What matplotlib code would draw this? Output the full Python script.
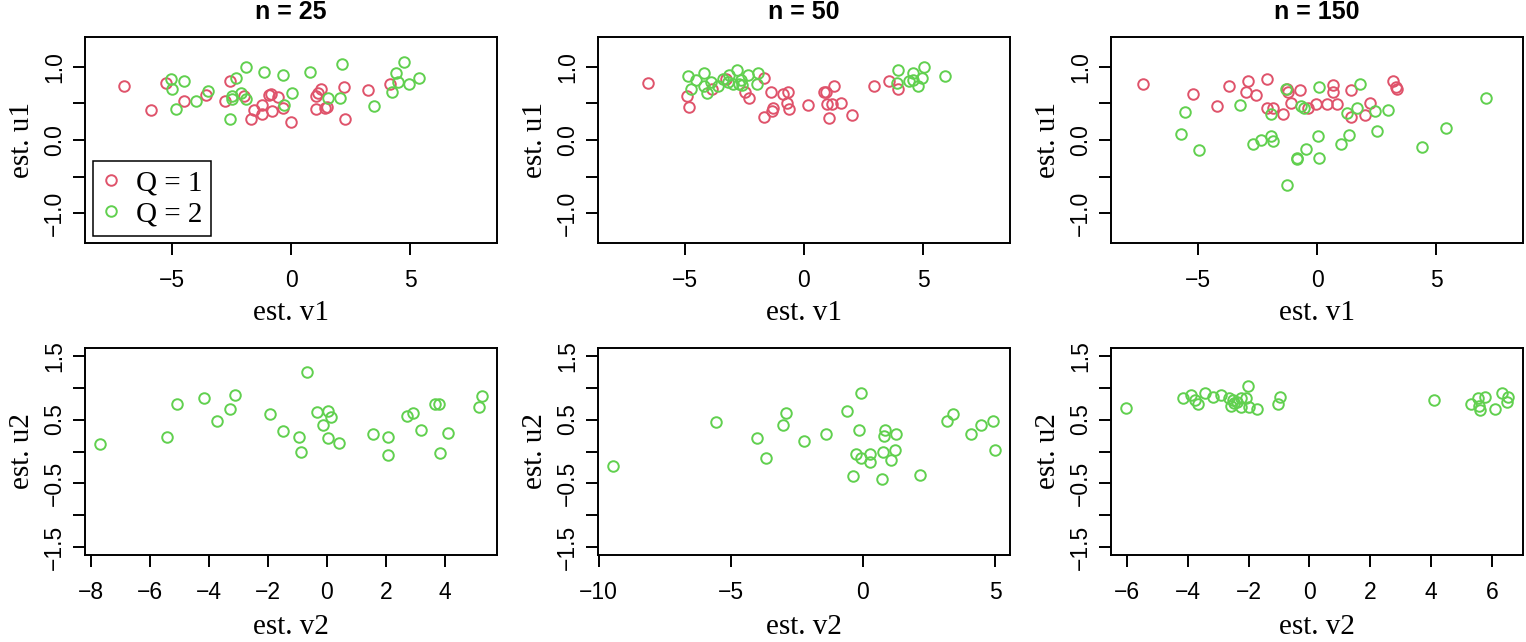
import numpy as np
import matplotlib
matplotlib.use("Agg")
import matplotlib.pyplot as plt
from matplotlib.lines import Line2D

# ---------- colours (R palette 2 / 3) ----------
RED = "#DF536B"
GREEN = "#61D04F"

# ---------- data: top row (est. v1 vs est. u1) ----------
n25_q1_v = [-7.02, -5.86, -5.24, -4.48, -3.56, -2.77, -2.58, -1.96, -1.68, -1.54, -1.22, -1.22, -0.92, -0.86,
            -0.80, -0.55, -0.34, -0.02, 1.03, 1.03, 1.15, 1.26, 1.43, 1.51, 2.24, 2.27, 3.24, 4.17]
n25_q1_u = [0.74, 0.41, 0.78, 0.53, 0.62, 0.53, 0.80, 0.60, 0.28, 0.41, 0.48, 0.35, 0.62, 0.63,
            0.39, 0.59, 0.44, 0.25, 0.42, 0.60, 0.64, 0.69, 0.43, 0.45, 0.72, 0.28, 0.68, 0.77]
n25_q2_v = [-5.03, -4.99, -4.50, -4.82, -4.01, -3.49, -2.55, -2.48, -2.46, -2.31, -2.09, -1.91, -1.88, -1.12,
            -0.35, -0.31, 0.03, 0.81, 1.54, 2.04, 2.13, 3.49, 4.26, 4.41, 4.48, 4.76, 4.97, 5.38]
n25_q2_u = [0.83, 0.70, 0.80, 0.42, 0.53, 0.67, 0.29, 0.60, 0.56, 0.85, 0.64, 0.99, 0.56, 0.93,
            0.88, 0.48, 0.64, 0.93, 0.57, 0.57, 1.04, 0.46, 0.66, 0.92, 0.79, 1.06, 0.76, 0.85]

n50_q1_v = [-6.57, -4.91, -4.84, -3.87, -3.27, -2.46, -2.32, -1.67, -1.66, -1.38, -1.34, -1.29, -0.87, -0.66,
            -0.70, -0.62, 0.17, 0.84, 0.94, 1.27, 0.96, 1.19, 1.55, 1.04, 2.03, 2.93, 3.56, 3.94]
n50_q1_u = [0.78, 0.60, 0.45, 0.70, 0.83, 0.65, 0.57, 0.84, 0.32, 0.65, 0.40, 0.44, 0.63, 0.65,
            0.51, 0.42, 0.48, 0.65, 0.65, 0.74, 0.49, 0.49, 0.50, 0.30, 0.34, 0.73, 0.80, 0.70]
n50_q2_v = [-4.85, -4.74, -4.53, -4.22, -4.19, -4.06, -3.91, -3.63, -3.40, -3.16, -3.19, -3.00, -2.80, -2.74,
            -2.63, -2.60, -2.36, -1.95, -1.97, 3.95, 3.92, 4.40, 4.57, 4.57, 4.78, 4.95, 5.05, 5.91]
n50_q2_u = [0.87, 0.70, 0.82, 0.91, 0.73, 0.64, 0.79, 0.73, 0.83, 0.89, 0.79, 0.77, 0.96, 0.77,
            0.82, 0.75, 0.89, 0.92, 0.77, 0.96, 0.78, 0.81, 0.92, 0.82, 0.73, 0.85, 0.99, 0.87]

n150_q1_v = [-7.32, -5.19, -4.18, -3.71, -2.98, -2.90, -2.57, -2.08, -2.08, -1.84, -1.42, -1.27, -1.23, -1.08,
             -0.70, -0.37, -0.06, 0.43, 0.67, 0.66, 0.86, 1.41, 1.43, 2.01, 2.21, 3.21, 3.33, 3.37]
n150_q1_u = [0.76, 0.63, 0.47, 0.73, 0.66, 0.81, 0.61, 0.83, 0.44, 0.43, 0.35, 0.69, 0.65, 0.51,
             0.68, 0.43, 0.49, 0.49, 0.75, 0.65, 0.49, 0.68, 0.31, 0.34, 0.51, 0.81, 0.72, 0.70]
n150_q2_v = [-5.56, -5.70, -4.97, -3.24, -2.67, -2.36, -1.94, -1.86, -1.92, -1.31, -1.25, -0.86, -0.82, -0.68,
             -0.56, -0.45, 0.07, 0.05, 0.08, 1.01, 1.27, 1.33, 1.66, 1.80, 2.43, 2.51, 2.97, 4.40, 5.41, 7.10]
n150_q2_u = [0.38, 0.08, -0.14, 0.48, -0.05, 0.00, 0.06, -0.02, 0.35, 0.69, -0.62, -0.24, -0.26, 0.46,
             0.44, -0.12, 0.72, 0.06, -0.24, -0.06, 0.37, 0.07, 0.44, 0.76, 0.39, 0.12, 0.41, -0.09, 0.16, 0.57]

# ---------- data: bottom row (est. v2 vs est. u2, Q = 2 only) ----------
n25_v2 = [-7.67, -5.42, -5.06, -4.14, -3.71, -3.27, -3.12, -1.91, -1.49, -0.93, -0.87, -0.68, -0.33, 0.03, 0.16,
          -0.12, 0.03, 0.43, 1.58, 2.08, 2.08, 2.73, 2.93, 3.20, 3.66, 3.81, 3.84, 4.11, 5.17, 5.25]
n25_u2 = [0.11, 0.22, 0.74, 0.84, 0.47, 0.66, 0.88, 0.59, 0.32, 0.23, 0.00, 1.24, 0.62, 0.64, 0.54,
          0.41, 0.21, 0.14, 0.27, 0.23, -0.05, 0.56, 0.60, 0.34, 0.75, 0.74, -0.03, 0.29, 0.70, 0.87]

n50_v2 = [-9.45, -5.55, -4.01, -3.65, -3.04, -2.90, -2.23, -1.40, -0.61, -0.08, -0.14, -0.25, -0.08, -0.38, 0.27,
          0.25, 0.73, 0.75, 0.85, 0.80, 1.05, 1.20, 1.25, 2.17, 3.20, 3.42, 4.11, 4.46, 4.91, 4.99]
n50_u2 = [-0.22, 0.46, 0.21, -0.10, 0.41, 0.61, 0.17, 0.28, 0.64, 0.92, 0.33, -0.04, -0.10, -0.39, -0.04,
          -0.16, -0.43, -0.01, 0.33, 0.25, -0.13, 0.03, 0.27, -0.36, 0.47, 0.59, 0.27, 0.41, 0.48, 0.02]

n150_v2 = [-6.02, -4.15, -3.88, -3.77, -3.67, -3.43, -3.18, -2.91, -2.64, -2.57, -2.47, -2.51, -2.38, -2.25, -2.25,
           -2.09, -2.01, -1.98, -1.72, -1.02, -0.96, 4.10, 5.31, 5.55, 5.56, 5.60, 5.77, 6.09, 6.33, 6.49, 6.52]
n150_u2 = [0.68, 0.83, 0.88, 0.81, 0.74, 0.91, 0.86, 0.89, 0.83, 0.71, 0.76, 0.80, 0.78, 0.70, 0.84,
           0.84, 1.03, 0.70, 0.66, 0.74, 0.86, 0.81, 0.75, 0.84, 0.72, 0.65, 0.85, 0.66, 0.91, 0.77, 0.85]

titles = ["n = 25", "n = 50", "n = 150"]
top_data = [(n25_q1_v, n25_q1_u, n25_q2_v, n25_q2_u),
            (n50_q1_v, n50_q1_u, n50_q2_v, n50_q2_u),
            (n150_q1_v, n150_q1_u, n150_q2_v, n150_q2_u)]
bottom_data = [(n25_v2, n25_u2), (n50_v2, n50_u2), (n150_v2, n150_u2)]
bottom_xticks = [[-8, -6, -4, -2, 0, 2, 4], [-10, -5, 0, 5], [-6, -4, -2, 0, 2, 4, 6]]

SERIF = "Liberation Serif"
SANS = "Liberation Sans"
plt.rcParams["font.family"] = SANS
plt.rcParams["axes.linewidth"] = 1.4

W, H = 1526, 642
fig = plt.figure(figsize=(W / 100, H / 100), dpi=100)

col_left = [85, 598, 1111]
ax_w = 412
top_row = (37, 243)
bot_row = (348, 555)

MS = 7.6
MEW = 1.4


def r_range(vals, pad=0.04):
    lo, hi = min(vals), max(vals)
    r = hi - lo
    return lo - pad * r, hi + pad * r


def style_axes(ax, yticks, ylabels, xlabel, ylabel, xlab_y):
    ax.tick_params(axis="both", direction="out", length=8.5, width=1.4, labelsize=16.5)
    ax.tick_params(axis="x", pad=10)
    ax.tick_params(axis="y", pad=5)
    ax.set_yticks(yticks)
    ax.set_yticklabels(ylabels, rotation=90, va="center")
    ax.set_xlabel(xlabel, family=SERIF, fontsize=21, va="center")
    ax.xaxis.set_label_coords(0.5, xlab_y)
    ax.set_ylabel(ylabel, family=SERIF, fontsize=21, va="center")
    ax.yaxis.set_label_coords(-0.153, 0.5)


def make_ax(x0, rows):
    top, bot = rows
    return fig.add_axes([x0 / W, 1 - bot / H, ax_w / W, (bot - top) / H])


for i in range(3):
    # ---- top row ----
    ax = make_ax(col_left[i], top_row)
    v1, u1, v2, u2 = top_data[i]
    ax.plot(v1, u1, "o", ls="none", ms=MS, mew=MEW, mfc="none", mec=RED)
    ax.plot(v2, u2, "o", ls="none", ms=MS, mew=MEW, mfc="none", mec=GREEN)
    ax.set_xlim(-8.65, 8.65)
    ax.set_ylim(-1.404, 1.404)
    ax.set_xticks([-5, 0, 5])
    style_axes(ax, [-1, -0.5, 0, 0.5, 1], ["\u22121.0", "", "0.0", "", "1.0"],
               "est. v1", "est. u1", -0.34)
    ax.set_title(titles[i], fontsize=18, fontweight="bold", y=1.12, va="center", pad=0)

    if i == 0:
        handles = [Line2D([], [], marker="o", ls="none", ms=MS, mew=MEW, mfc="none", mec=c)
                   for c in (RED, GREEN)]
        leg = ax.legend(handles, ["Q = 1", "Q = 2"], loc="lower left",
                        bbox_to_anchor=(0.02, 0.035), borderaxespad=0,
                        prop={"family": SERIF, "size": 21}, fancybox=False,
                        edgecolor="black", framealpha=1, handlelength=0.6,
                        handletextpad=0.55, borderpad=0.3, labelspacing=0.15)
        leg.get_frame().set_linewidth(1.1)

    # ---- bottom row ----
    ax = make_ax(col_left[i], bot_row)
    v, u = bottom_data[i]
    ax.plot(v, u, "o", ls="none", ms=MS, mew=MEW, mfc="none", mec=GREEN)
    ax.set_xlim(*r_range(v))
    ax.set_ylim(-1.62, 1.62)
    ax.set_xticks(bottom_xticks[i])
    style_axes(ax, [-1.5, -1, -0.5, 0, 0.5, 1, 1.5],
               ["\u22121.5", "", "\u22120.5", "", "0.5", "", "1.5"],
               "est. v2", "est. u2", -0.35)

fig.savefig("out.png", dpi=100)
